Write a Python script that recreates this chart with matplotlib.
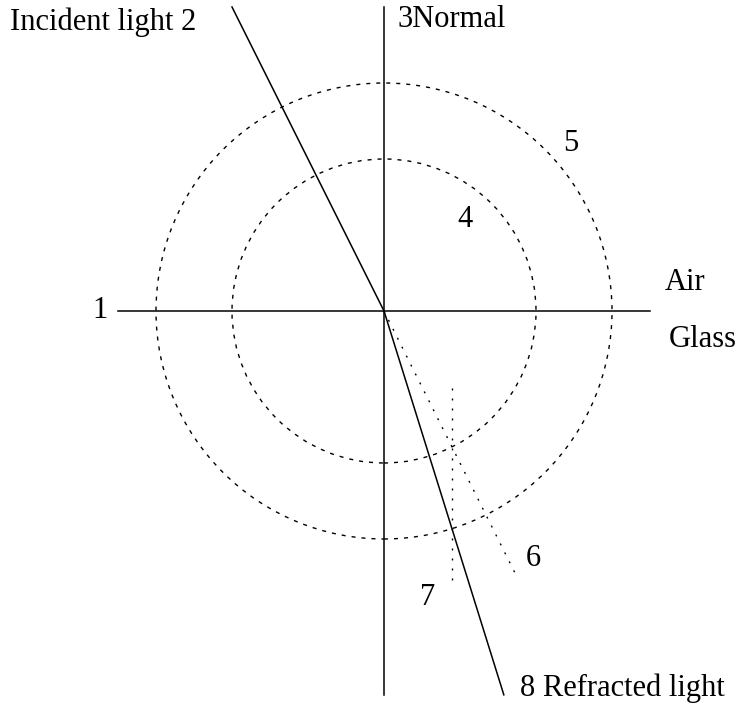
import numpy as np
import matplotlib
matplotlib.use("Agg")
import matplotlib.pyplot as plt
from matplotlib.patches import Circle

# geometry data (diagram units)
center = (0.0, 0.0)
radii = [2.0, 3.0]                       # inner circle 4, outer circle 5
interface_x = [-3.5, 3.5]                # line 1 (air/glass boundary)
normal_y = [4.0, -5.05]                  # line 3 (normal)
incident_dir = (-0.5, 1.0)               # incident ray direction (from center outward)
incident_len = 4.0                       # in y units
sin_ratio = 0.894 / 3.0                  # refracted ray sine
refracted_y_end = -5.05
ext_len = 3.5                            # line 6: incident extension
line7_x = 0.894
line7_y = [-1.01, -3.6]

labels = [
    ("Incident light 2", -4.92, 3.80, "left"),
    ("3Normal", 0.18, 3.83, "left"),
    ("5", 2.46, 2.20, "center"),
    ("4", 1.07, 1.20, "center"),
    ("Air", 3.96, 0.38, "center"),
    ("Glass", 4.20, -0.38, "center"),
    ("1", -3.74, 0.0, "center"),
    ("6", 1.96, -3.25, "center"),
    ("7", 0.57, -3.77, "center"),
    ("8 Refracted light", 1.79, -4.97, "left"),
]

W, H, DPI = 745, 704, 100
S = 76.0
cx, cy = 384, 311
fig = plt.figure(figsize=(W / DPI, H / DPI), dpi=DPI)
ax = fig.add_axes([0, 0, 1, 1])
ax.set_xlim((0 - cx) / S, (W - cx) / S)
ax.set_ylim((cy - H) / S, cy / S)
ax.axis("off")

lw = 1.1
# circles
for r in radii:
    ax.add_patch(Circle(center, r, fill=False, ec="black", lw=1.0,
                        linestyle=(0, (2.9, 4.3))))
# interface and normal
ax.plot(interface_x, [0, 0], color="black", lw=lw)
ax.plot([0, 0], normal_y, color="black", lw=lw)
# incident ray
ax.plot([0, incident_dir[0] * incident_len], [0, incident_dir[1] * incident_len],
        color="black", lw=lw)
# refracted ray
tan_r = sin_ratio / np.sqrt(1 - sin_ratio ** 2)
ax.plot([0, -refracted_y_end * tan_r], [0, refracted_y_end], color="black", lw=lw)
# line 6: extension of incident ray
ax.plot([0, -incident_dir[0] * ext_len], [0, -incident_dir[1] * ext_len],
        color="black", lw=1.0, linestyle=(0, (1.4, 5.8)))
# line 7: vertical dotted
ax.plot([line7_x, line7_x], line7_y, color="black", lw=1.0, linestyle=(0, (1.4, 5.8)))

for txt, x, y, ha in labels:
    ax.text(x, y, txt, ha=ha, va="center", fontsize=22,
            family="Liberation Serif")

fig.savefig("out.png", dpi=DPI)
